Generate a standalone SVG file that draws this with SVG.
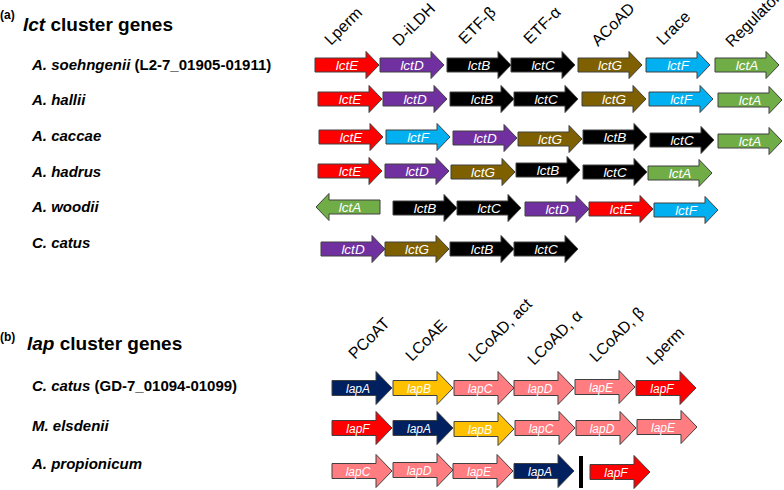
<svg xmlns="http://www.w3.org/2000/svg" xmlns:xlink="http://www.w3.org/1999/xlink" width="784" height="490" viewBox="0 0 784 490">
<style>
text{font-family:"Liberation Sans",Arial,sans-serif;}
.ttl{font-size:19px;font-weight:bold;fill:#000;}
.tag{font-size:12px;font-weight:bold;fill:#000;}
.sp{font-size:15px;font-weight:bold;fill:#000;}
.it{font-style:italic;}
.fn{font-size:16px;fill:#000;}
.ga{font-size:13.5px;font-style:italic;fill:#fff;text-anchor:middle;}
.gb{font-size:12px;font-style:italic;fill:#fff;text-anchor:middle;}
.ar{stroke:#404040;stroke-width:1;}
.red{fill:#FF0000}.pur{fill:#7030A0}.blk{fill:#000000}.olv{fill:#7F6000}.cyn{fill:#00B0F0}.grn{fill:#70AD47}
.nav{fill:#002060}.gld{fill:#FFC000}.sal{fill:#FF7C80}
</style>
<defs>
<path id="aR" d="M0,-7 H51 V-13.5 L64,0 L51,13.5 V7 H0 Z"/>
<path id="aL" d="M64,-7 H13 V-13.5 L0,0 L13,13.5 V7 H64 Z"/>
<path id="bR" d="M0,-7.5 H44 V-16.5 L60,0 L44,16.5 V7.5 H0 Z"/>
</defs>
<rect width="784" height="490" fill="#fff"/>

<!-- Section a headings -->
<g id="title-a">
<text class="tag" x="0" y="19">(a)</text>
<text class="ttl" x="23" y="31"><tspan class="it">lct</tspan> cluster genes</text>
</g>
<g id="func-a" class="fn">
<text transform="translate(331,46) rotate(-45)">Lperm</text>
<text transform="translate(399,47) rotate(-45)">D-iLDH</text>
<text transform="translate(465,45) rotate(-45)">ETF-β</text>
<text transform="translate(530,45) rotate(-45)">ETF-α</text>
<text transform="translate(598,47) rotate(-45)">ACoAD</text>
<text transform="translate(663,46) rotate(-45)">Lrace</text>
<text transform="translate(732,48) rotate(-45)">Regulator</text>
</g>

<g id="labels-a" class="sp">
<text x="32" y="70"><tspan class="it">A. soehngenii</tspan> (L2-7_01905-01911)</text>
<text x="32" y="105" class="it">A. hallii</text>
<text x="32" y="141" class="it">A. caccae</text>
<text x="32" y="177" class="it">A. hadrus</text>
<text x="32" y="212" class="it">A. woodii</text>
<text x="32" y="248" class="it">C. catus</text>
</g>

<!-- Row 1 -->
<g id="row-soehngenii">
<g id="r1-lctE" transform="translate(315,65)"><use href="#aR" class="ar red"/><text class="ga" x="32" y="5">lctE</text></g>
<g id="r1-lctD" transform="translate(380,65)"><use href="#aR" class="ar pur"/><text class="ga" x="32" y="5">lctD</text></g>
<g id="r1-lctB" transform="translate(447,65)"><use href="#aR" class="ar blk"/><text class="ga" x="32" y="5">lctB</text></g>
<g id="r1-lctC" transform="translate(511,65)"><use href="#aR" class="ar blk"/><text class="ga" x="32" y="5">lctC</text></g>
<g id="r1-lctG" transform="translate(578,65)"><use href="#aR" class="ar olv"/><text class="ga" x="32" y="5">lctG</text></g>
<g id="r1-lctF" transform="translate(646,65)"><use href="#aR" class="ar cyn"/><text class="ga" x="32" y="5">lctF</text></g>
<g id="r1-lctA" transform="translate(715,65)"><use href="#aR" class="ar grn"/><text class="ga" x="32" y="5">lctA</text></g>
</g>

<!-- Row 2 -->
<g id="row-hallii">
<g id="r2-lctE" transform="translate(318,99)"><use href="#aR" class="ar red"/><text class="ga" x="32" y="5">lctE</text></g>
<g id="r2-lctD" transform="translate(383,99)"><use href="#aR" class="ar pur"/><text class="ga" x="32" y="5">lctD</text></g>
<g id="r2-lctB" transform="translate(450,99)"><use href="#aR" class="ar blk"/><text class="ga" x="32" y="5">lctB</text></g>
<g id="r2-lctC" transform="translate(514,99)"><use href="#aR" class="ar blk"/><text class="ga" x="32" y="5">lctC</text></g>
<g id="r2-lctG" transform="translate(582,99)"><use href="#aR" class="ar olv"/><text class="ga" x="32" y="5">lctG</text></g>
<g id="r2-lctF" transform="translate(649,99)"><use href="#aR" class="ar cyn"/><text class="ga" x="32" y="5">lctF</text></g>
<g id="r2-lctA" transform="translate(718,100)"><use href="#aR" class="ar grn"/><text class="ga" x="32" y="5">lctA</text></g>
</g>

<!-- Row 3 -->
<g id="row-caccae">
<g id="r3-lctE" transform="translate(319,137)"><use href="#aR" class="ar red"/><text class="ga" x="32" y="5">lctE</text></g>
<g id="r3-lctF" transform="translate(386,137)"><use href="#aR" class="ar cyn"/><text class="ga" x="32" y="5">lctF</text></g>
<g id="r3-lctD" transform="translate(453,138)"><use href="#aR" class="ar pur"/><text class="ga" x="32" y="5">lctD</text></g>
<g id="r3-lctG" transform="translate(518,139)"><use href="#aR" class="ar olv"/><text class="ga" x="32" y="5">lctG</text></g>
<g id="r3-lctB" transform="translate(583,137)"><use href="#aR" class="ar blk"/><text class="ga" x="32" y="5">lctB</text></g>
<g id="r3-lctC" transform="translate(650,140)"><use href="#aR" class="ar blk"/><text class="ga" x="32" y="5">lctC</text></g>
<g id="r3-lctA" transform="translate(718,141)"><use href="#aR" class="ar grn"/><text class="ga" x="32" y="5">lctA</text></g>
</g>

<!-- Row 4 -->
<g id="row-hadrus">
<g id="r4-lctE" transform="translate(318,171)"><use href="#aR" class="ar red"/><text class="ga" x="32" y="5">lctE</text></g>
<g id="r4-lctD" transform="translate(385,171)"><use href="#aR" class="ar pur"/><text class="ga" x="32" y="5">lctD</text></g>
<g id="r4-lctG" transform="translate(451,172)"><use href="#aR" class="ar olv"/><text class="ga" x="32" y="5">lctG</text></g>
<g id="r4-lctB" transform="translate(516,170)"><use href="#aR" class="ar blk"/><text class="ga" x="32" y="5">lctB</text></g>
<g id="r4-lctC" transform="translate(583,172)"><use href="#aR" class="ar blk"/><text class="ga" x="32" y="5">lctC</text></g>
<g id="r4-lctA" transform="translate(648,173)"><use href="#aR" class="ar grn"/><text class="ga" x="32" y="5">lctA</text></g>
</g>

<!-- Row 5 -->
<g id="row-woodii">
<g id="r5-lctA" transform="translate(316,207)"><use href="#aL" class="ar grn"/><text class="ga" x="34" y="5">lctA</text></g>
<g id="r5-lctB" transform="translate(393,208)"><use href="#aR" class="ar blk"/><text class="ga" x="32" y="5">lctB</text></g>
<g id="r5-lctC" transform="translate(457,208)"><use href="#aR" class="ar blk"/><text class="ga" x="32" y="5">lctC</text></g>
<g id="r5-lctD" transform="translate(525,209)"><use href="#aR" class="ar pur"/><text class="ga" x="32" y="5">lctD</text></g>
<g id="r5-lctE" transform="translate(589,209)"><use href="#aR" class="ar red"/><text class="ga" x="32" y="5">lctE</text></g>
<g id="r5-lctF" transform="translate(654,210)"><use href="#aR" class="ar cyn"/><text class="ga" x="32" y="5">lctF</text></g>
</g>

<!-- Row 6 -->
<g id="row-catus-a">
<g id="r6-lctD" transform="translate(321,249)"><use href="#aR" class="ar pur"/><text class="ga" x="32" y="5">lctD</text></g>
<g id="r6-lctG" transform="translate(385,249)"><use href="#aR" class="ar olv"/><text class="ga" x="32" y="5">lctG</text></g>
<g id="r6-lctB" transform="translate(450,249)"><use href="#aR" class="ar blk"/><text class="ga" x="32" y="5">lctB</text></g>
<g id="r6-lctC" transform="translate(514,249)"><use href="#aR" class="ar blk"/><text class="ga" x="32" y="5">lctC</text></g>
</g>

<!-- Section b -->
<g id="title-b">
<text class="tag" x="0" y="341">(b)</text>
<text class="ttl" x="27" y="350"><tspan class="it">lap</tspan> cluster genes</text>
</g>
<g id="func-b" class="fn">
<text transform="translate(355,360) rotate(-45)">PCoAT</text>
<text transform="translate(412,362) rotate(-45)">LCoAE</text>
<text transform="translate(475,363) rotate(-45)">LCoAD, act</text>
<text transform="translate(534,366) rotate(-45)">LCoAD, α</text>
<text transform="translate(596,363) rotate(-45)">LCoAD, β</text>
<text transform="translate(653,366) rotate(-45)">Lperm</text>
</g>
<g id="labels-b" class="sp">
<text x="32" y="391"><tspan class="it">C. catus</tspan> (GD-7_01094-01099)</text>
<text x="32" y="431" class="it">M. elsdenii</text>
<text x="32" y="469" class="it">A. propionicum</text>
</g>

<g id="row-catus-b">
<g id="b1-lapA" transform="translate(332,388)"><use href="#bR" class="ar nav"/><text class="gb" x="26" y="4.5">lapA</text></g>
<g id="b1-lapB" transform="translate(393,388)"><use href="#bR" class="ar gld"/><text class="gb" x="26" y="4.5">lapB</text></g>
<g id="b1-lapC" transform="translate(454,388)"><use href="#bR" class="ar sal"/><text class="gb" x="26" y="4.5">lapC</text></g>
<g id="b1-lapD" transform="translate(514,388)"><use href="#bR" class="ar sal"/><text class="gb" x="26" y="4.5">lapD</text></g>
<g id="b1-lapE" transform="translate(575,387)"><use href="#bR" class="ar sal"/><text class="gb" x="26" y="4.5">lapE</text></g>
<g id="b1-lapF" transform="translate(636,388)"><use href="#bR" class="ar red"/><text class="gb" x="26" y="4.5">lapF</text></g>
</g>

<g id="row-elsdenii">
<g id="b2-lapF" transform="translate(332,428)"><use href="#bR" class="ar red"/><text class="gb" x="26" y="4.5">lapF</text></g>
<g id="b2-lapA" transform="translate(393,428)"><use href="#bR" class="ar nav"/><text class="gb" x="26" y="4.5">lapA</text></g>
<g id="b2-lapB" transform="translate(454,429)"><use href="#bR" class="ar gld"/><text class="gb" x="26" y="4.5">lapB</text></g>
<g id="b2-lapC" transform="translate(515,428)"><use href="#bR" class="ar sal"/><text class="gb" x="26" y="4.5">lapC</text></g>
<g id="b2-lapD" transform="translate(576,428)"><use href="#bR" class="ar sal"/><text class="gb" x="26" y="4.5">lapD</text></g>
<g id="b2-lapE" transform="translate(637,427)"><use href="#bR" class="ar sal"/><text class="gb" x="26" y="4.5">lapE</text></g>
</g>

<g id="row-propionicum">
<g id="b3-lapC" transform="translate(332,471)"><use href="#bR" class="ar sal"/><text class="gb" x="26" y="4.5">lapC</text></g>
<g id="b3-lapD" transform="translate(393,470)"><use href="#bR" class="ar sal"/><text class="gb" x="26" y="4.5">lapD</text></g>
<g id="b3-lapE" transform="translate(453,471)"><use href="#bR" class="ar sal"/><text class="gb" x="26" y="4.5">lapE</text></g>
<g id="b3-lapA" transform="translate(514,471)"><use href="#bR" class="ar nav"/><text class="gb" x="26" y="4.5">lapA</text></g>
<rect id="b3-break" x="579" y="456" width="4" height="32" fill="#000"/>
<g id="b3-lapF" transform="translate(590,472)"><use href="#bR" class="ar red"/><text class="gb" x="26" y="4.5">lapF</text></g>
</g>
</svg>
